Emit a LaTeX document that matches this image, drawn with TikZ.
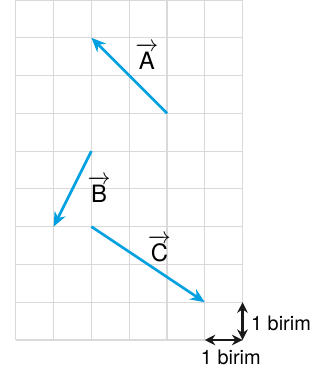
\documentclass[tikz,border=0pt]{standalone}
\usepackage{amsmath}
\usepackage{fontspec}
\setmainfont{TeX Gyre Heros}
\usepackage{xcolor}
\usepackage{tikz}
\usetikzlibrary{arrows.meta,positioning}

\definecolor{vecblue}{RGB}{0,160,225}

\begin{document}
\begin{tikzpicture}[
    font=\fontsize{18}{21}\selectfont,
    gridline/.style={
        draw=gray!30,
        line width=0.9pt
    },
    vector/.style={
        -{Stealth[length=3.8mm,width=3.2mm,inset=1.2mm]},
        vecblue,
        line width=2pt
    },
    unitarrow/.style={
        {Stealth[length=2.8mm,width=2.8mm]}-{Stealth[length=2.8mm,width=2.8mm]},
        black!90,
        line width=1.6pt
    },
    veclabel/.style={anchor=base, inner sep=0pt},
    unitlabel/.style={font=\fontsize{15}{18}\selectfont, inner sep=0pt}
]
\useasboundingbox (-0.42,-0.9) rectangle (8.2,9.0);

% square grid, 1 birim per cell
\draw[gridline] (0,0) grid (6,9);

% end points of the vectors
\coordinate (A0) at (4,6);
\coordinate (A1) at (2,8);
\coordinate (B0) at (2,5);
\coordinate (B1) at (1,3);
\coordinate (C0) at (2,3);
\coordinate (C1) at (5,1);

% vectors
\draw[vector] (A0) -- (A1);
\draw[vector] (B0) -- (B1);
\draw[vector] (C0) -- (C1);

\node[veclabel] (labA) at (3.47,7.17) {$\overrightarrow{\text{A}}$};
\node[veclabel] (labB) at (2.2,3.65) {$\overrightarrow{\text{B}}$};
\node[veclabel] (labC) at (3.8,2.09) {$\overrightarrow{\text{C}}$};

% unit lengths
\coordinate (corner) at (6,0);
\coordinate (upone) at (6,1);
\coordinate (leftone) at (5,0);

\draw[unitarrow] (corner) -- (upone);
\draw[unitarrow] (leftone) -- (corner);

\node[unitlabel, anchor=base west] (unitv) at (6.22,0.24) {1 birim};
\node[unitlabel, anchor=base] (unith) at (5.69,-0.66) {1 birim};

\end{tikzpicture}
\end{document}
